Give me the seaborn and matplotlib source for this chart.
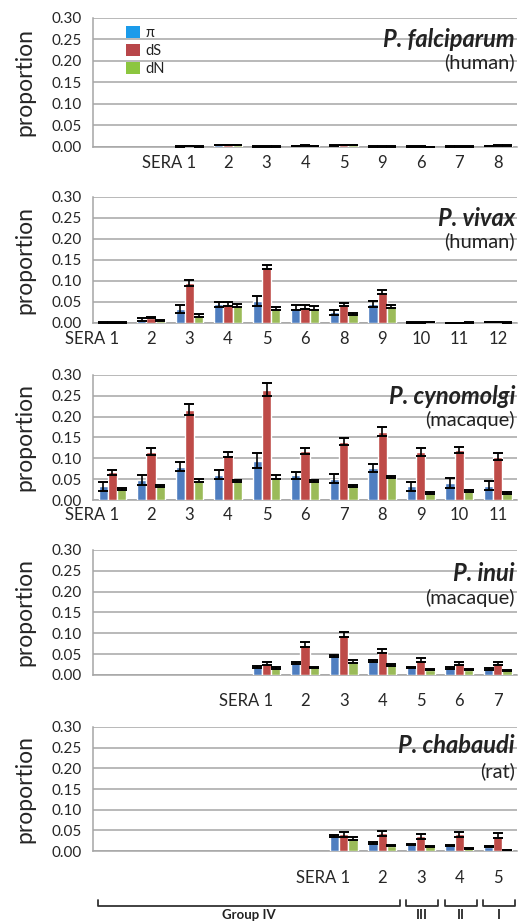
import numpy as np
import pandas as pd
import seaborn as sns
import matplotlib.pyplot as plt
from matplotlib.patches import Patch
from matplotlib import transforms

# === data ===
MEASURES = ['π', 'dS', 'dN']

# falciparum (human) - 11 slots, '' = empty slot
fal_slots = ['', '', '1', '2', '3', '4', '5', '9', '6', '7', '8']
fal_pi = [0.001, 0.004, 0.001, 0.002, 0.003, 0.001, 0.001, 0.001, 0.002]
fal_ds = [0.002, 0.005, 0.001, 0.003, 0.004, 0.001, 0.001, 0.001, 0.003]
fal_dn = [0.001, 0.004, 0.001, 0.002, 0.005, 0.001, 0.0005, 0.001, 0.003]
fal_pi_err = [0.0005] * 9
fal_ds_err = [0.0005] * 9
fal_dn_err = [0.0005] * 9

# vivax (human)
viv_slots = ['1', '2', '3', '4', '5', '6', '8', '9', '10', '11', '12']
viv_pi = [0.001, 0.008, 0.033, 0.044, 0.053, 0.036, 0.025, 0.046, 0.001, 0.0005, 0.002]
viv_ds = [0.001, 0.013, 0.095, 0.046, 0.134, 0.038, 0.044, 0.074, 0.001, 0.0005, 0.002]
viv_dn = [0.001, 0.005, 0.018, 0.042, 0.035, 0.036, 0.021, 0.039, 0.002, 0.001, 0.001]
viv_pi_err = [0.0005, 0.004, 0.010, 0.006, 0.012, 0.006, 0.007, 0.007, 0.0005, 0.0005, 0.0005]
viv_ds_err = [0.0005, 0.002, 0.007, 0.005, 0.005, 0.004, 0.003, 0.005, 0.0005, 0.0005, 0.0005]
viv_dn_err = [0.0005, 0.001, 0.003, 0.004, 0.004, 0.004, 0.003, 0.004, 0.0005, 0.0005, 0.0005]

# cynomolgi (macaque)
cyn_slots = ['1', '2', '3', '4', '5', '6', '7', '8', '9', '10', '11']
cyn_pi = [0.033, 0.048, 0.080, 0.061, 0.094, 0.059, 0.051, 0.077, 0.033, 0.040, 0.034]
cyn_ds = [0.067, 0.116, 0.217, 0.109, 0.265, 0.117, 0.140, 0.164, 0.115, 0.120, 0.104]
cyn_dn = [0.026, 0.034, 0.047, 0.046, 0.055, 0.046, 0.033, 0.055, 0.016, 0.021, 0.017]
cyn_pi_err = [0.011, 0.011, 0.010, 0.010, 0.018, 0.008, 0.011, 0.010, 0.011, 0.012, 0.011]
cyn_ds_err = [0.006, 0.008, 0.013, 0.007, 0.016, 0.007, 0.009, 0.010, 0.010, 0.008, 0.008]
cyn_dn_err = [0.002, 0.003, 0.003, 0.003, 0.004, 0.003, 0.002, 0.003, 0.002, 0.002, 0.002]

# inui (macaque)
inu_slots = ['', '', '', '', '1', '2', '3', '4', '5', '6', '7']
inu_pi = [0.019, 0.029, 0.045, 0.033, 0.018, 0.016, 0.015]
inu_ds = [0.027, 0.073, 0.097, 0.058, 0.036, 0.027, 0.028]
inu_dn = [0.017, 0.018, 0.032, 0.024, 0.013, 0.013, 0.011]
inu_pi_err = [0.002, 0.002, 0.003, 0.002, 0.002, 0.002, 0.002]
inu_ds_err = [0.004, 0.006, 0.007, 0.005, 0.004, 0.003, 0.004]
inu_dn_err = [0.002, 0.002, 0.003, 0.002, 0.001, 0.001, 0.001]

# chabaudi (rat)
cha_slots = ['', '', '', '', '', '', '1', '2', '3', '4', '5']
cha_pi = [0.036, 0.019, 0.016, 0.014, 0.010]
cha_ds = [0.040, 0.043, 0.036, 0.041, 0.037]
cha_dn = [0.030, 0.013, 0.011, 0.007, 0.002]
cha_pi_err = [0.002, 0.002, 0.001, 0.001, 0.001]
cha_ds_err = [0.005, 0.006, 0.006, 0.006, 0.006]
cha_dn_err = [0.003, 0.001, 0.001, 0.001, 0.0005]

species = ['P. falciparum', 'P. vivax', 'P. cynomolgi', 'P. inui', 'P. chabaudi']
hosts = ['(human)', '(human)', '(macaque)', '(macaque)', '(rat)']

# groups under the last panel: (label, first slot, last slot)
group_names = ['Group IV', 'III', 'II', 'I']
group_first = [0, 8, 9, 10]
group_last = [7, 8, 9, 10]

BAR_COLORS = ['#4F7EC0', '#BE4B48', '#9BBB59']
LEGEND_COLORS = ['#1B9BEA', '#B8464A', '#8CC63F']
GRID = '#A6A6A6'

panels = [
    (fal_slots, fal_pi, fal_ds, fal_dn, fal_pi_err, fal_ds_err, fal_dn_err),
    (viv_slots, viv_pi, viv_ds, viv_dn, viv_pi_err, viv_ds_err, viv_dn_err),
    (cyn_slots, cyn_pi, cyn_ds, cyn_dn, cyn_pi_err, cyn_ds_err, cyn_dn_err),
    (inu_slots, inu_pi, inu_ds, inu_dn, inu_pi_err, inu_ds_err, inu_dn_err),
    (cha_slots, cha_pi, cha_ds, cha_dn, cha_pi_err, cha_ds_err, cha_dn_err),
]

# axes placement in figure fraction (bottom, height) and label pads
ax_boxes = [(0.8406, 0.1399), (0.6497, 0.1367), (0.4577, 0.1356),
            (0.2679, 0.1356), (0.0770, 0.1345)]
xlabel_pads = [5.5, 5.5, 5.0, 13.0, 13.5]
title_y = [0.83, 0.825, 0.83, 0.81, 0.85]
host_y = [0.66, 0.65, 0.64, 0.62, 0.64]

sns.set_theme(style="white")
plt.rcParams['font.family'] = ['Lato', 'DejaVu Sans']
plt.rcParams['text.color'] = '#222222'


def make_frame(slots, pi, ds, dn, pi_err, ds_err, dn_err):
    real = [i for i, s in enumerate(slots) if s != '']
    rows = []
    for k, i in enumerate(real):
        for m, v, e in zip(MEASURES, (pi[k], ds[k], dn[k]), (pi_err[k], ds_err[k], dn_err[k])):
            rows.append({'slot': f's{i}', 'idx': i, 'measure': m, 'value': v, 'err': e})
    return pd.DataFrame(rows)


fig = plt.figure(figsize=(5.29, 9.22), dpi=100)

for p, (slots, pi, ds, dn, pi_err, ds_err, dn_err) in enumerate(panels):
    bottom, height = ax_boxes[p]
    ax = fig.add_axes([0.176, bottom, 0.8015, height])
    df = make_frame(slots, pi, ds, dn, pi_err, ds_err, dn_err)
    order = [f's{i}' for i in range(len(slots))]

    sns.barplot(data=df, x='slot', y='value', hue='measure', order=order,
                hue_order=MEASURES, palette=BAR_COLORS, saturation=1,
                width=0.72, errorbar=None, legend=False, ax=ax, zorder=3)

    # error bars from the precomputed table
    err_lookup = {(r.idx, r.measure): r.err for r in df.itertuples()}
    for cont, m in zip(ax.containers, MEASURES):
        for bar in cont:
            cx = bar.get_x() + bar.get_width() / 2
            i = int(round(cx))
            ax.errorbar(cx, bar.get_height(), yerr=err_lookup[(i, m)],
                        fmt='none', ecolor='black', elinewidth=1.2,
                        capsize=3.3, capthick=1.4, zorder=4)

    n = len(slots)
    ax.set_xlim(-0.5, n - 0.5)
    ax.set_ylim(0, 0.30)
    ax.set_yticks(np.arange(0, 0.301, 0.05))
    ax.set_yticklabels([f'{v:.2f}' for v in np.arange(0, 0.301, 0.05)], fontsize=11)
    ax.yaxis.grid(True, color=GRID, lw=1.1, zorder=0)
    ax.set_axisbelow(True)

    # Excel style: ticks between categories, labels at centres
    ax.set_xticks(np.arange(-0.5, n, 1))
    ax.set_xticklabels([])
    ax.set_xticks(np.arange(n), minor=True)
    labels = list(slots)
    first = next(i for i, s in enumerate(slots) if s != '')
    labels[first] = 'SERA ' + labels[first]
    ax.set_xticklabels(labels, minor=True, fontsize=12)
    ax.tick_params(axis='x', which='major', length=5, width=1, color=GRID, direction='out')
    ax.tick_params(axis='x', which='minor', length=0, pad=xlabel_pads[p])
    ax.tick_params(axis='y', length=5, width=1, color=GRID, direction='out', pad=3)
    for lbl in ax.get_xticklabels(minor=True):
        if lbl.get_text().startswith('SERA'):
            lbl.set_ha('right')
            lbl.set_transform(lbl.get_transform() +
                              transforms.ScaledTranslation(5 / 72, 0, fig.dpi_scale_trans))

    for side in ['top', 'right']:
        ax.spines[side].set_visible(False)
    for side in ['left', 'bottom']:
        ax.spines[side].set_color(GRID)
        ax.spines[side].set_linewidth(1.1)

    ax.set_xlabel('')
    ax.set_ylabel('proportion', fontsize=16.5)
    ax.yaxis.set_label_coords(-0.135, 0.5)

    ax.text(0.995, title_y[p], species[p], transform=ax.transAxes, ha='right',
            va='center', fontsize=17, fontweight='bold', style='italic', zorder=5)
    ax.text(0.995, host_y[p], hosts[p], transform=ax.transAxes, ha='right',
            va='center', fontsize=14.5, zorder=5)

    if p == 0:
        handles = [Patch(facecolor=c, edgecolor='none', label=m)
                   for c, m in zip(LEGEND_COLORS, MEASURES)]
        ax.legend(handles=handles, loc='upper left', bbox_to_anchor=(0.065, 0.98),
                  frameon=False, fontsize=10.5, handlelength=0.9, handleheight=0.9,
                  handletextpad=0.4, labelspacing=0.25, borderaxespad=0)

    if p == len(panels) - 1:
        trans = transforms.blended_transform_factory(ax.transData, ax.transAxes)
        for name, a, b in zip(group_names, group_first, group_last):
            x0, x1 = a - 0.38, b + 0.45
            ax.plot([x0, x0, x1, x1], [-0.395, -0.445, -0.445, -0.395], color='#333333',
                    lw=1.3, transform=trans, clip_on=False)
            ax.text((x0 + x1) / 2, -0.52, name, transform=trans, ha='center',
                    va='center', fontsize=9.5, fontweight='bold')

fig.savefig('out.png', dpi=100)
